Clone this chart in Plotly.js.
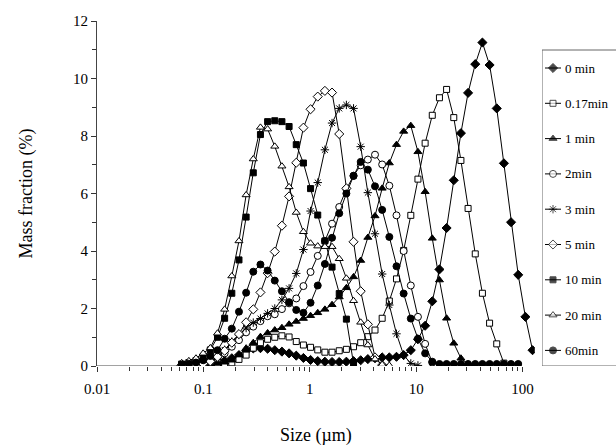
<!DOCTYPE html>
<html>
<head>
<meta charset="utf-8">
<script src="https://cdn.plot.ly/plotly-3.0.1.min.js"></script>
<style>html,body{margin:0;padding:0;background:#fff;}#chart{width:616px;height:448px;}</style>
</head>
<body>
<div id="chart"></div>
<script>
// Particle size grid (µm)
const sizes = [0.0625, 0.0730, 0.0852, 0.0995, 0.1162, 0.1357, 0.1584, 0.1850, 0.2160, 0.2522,
  0.2944, 0.3438, 0.4014, 0.4687, 0.5472, 0.6390, 0.7461, 0.8711, 1.017, 1.188,
  1.387, 1.619, 1.891, 2.208, 2.578, 3.010, 3.514, 4.103, 4.791, 5.594,
  6.531, 7.626, 8.904, 10.39, 12.14, 14.17, 16.55, 19.32, 22.56, 26.34,
  30.76, 35.92, 41.94, 48.97, 57.18, 66.76, 77.95, 91.02, 106.3, 124.1];

const seriesNames = ["0 min", "0.17min", "1 min", "2min", "3 min", "5 min", "10 min", "20 min", "60min"];

const mf_0min = [0.01, 0.02, 0.03, 0.05, 0.08, 0.12, 0.18, 0.27, 0.38, 0.53,
  0.61, 0.62, 0.6, 0.55, 0.5, 0.44, 0.36, 0.28, 0.21, 0.17,
  0.15, 0.14, 0.14, 0.15, 0.17, 0.2, 0.24, 0.27, 0.3, 0.3,
  0.32, 0.38, 0.55, 0.93, 1.4, 2.25, 3.36, 4.8, 6.46, 8.1,
  9.5, 10.5, 11.25, 10.47, 8.96, 7.05, 5.0, 3.17, 1.71, 0.55];
const mf_017min = [0.01, 0.01, 0.02, 0.02, 0.03, 0.04, 0.06, 0.11, 0.23, 0.38,
  0.62, 0.81, 0.93, 1.0, 1.05, 1.01, 0.85, 0.73, 0.65, 0.56,
  0.48, 0.48, 0.53, 0.58, 0.67, 0.81, 1.02, 1.25, 1.66, 2.26,
  3.03, 4.02, 5.24, 6.5, 7.75, 8.72, 9.33, 9.62, 8.64, 7.15,
  5.48, 3.9, 2.53, 1.49, 0.77, 0.1, 0.02];
const mf_1min = [0.01, 0.02, 0.03, 0.04, 0.06, 0.09, 0.13, 0.2, 0.38, 0.62,
  0.81, 1.02, 1.15, 1.25, 1.33, 1.45, 1.55, 1.65, 1.75, 1.85,
  1.97, 2.13, 2.4, 2.72, 3.1, 3.67, 4.47, 5.22, 6.18, 7.06,
  7.7, 8.16, 8.36, 7.45, 6.06, 4.44, 2.99, 1.66, 0.79, 0.27,
  0.06, 0.02];
const mf_2min = [0.01, 0.02, 0.04, 0.08, 0.15, 0.27, 0.44, 0.67, 0.9, 1.17,
  1.37, 1.56, 1.73, 1.8, 1.98, 2.18, 2.35, 2.78, 3.27, 3.83,
  4.35, 4.95, 5.53, 6.15, 6.62, 6.98, 7.18, 7.35, 7.01, 6.27,
  5.24, 4.0, 2.8, 1.71, 0.77, 0.12];
const mf_3min = [0.01, 0.02, 0.04, 0.08, 0.17, 0.32, 0.56, 0.85, 1.08, 1.32,
  1.51, 1.65, 1.83, 2.0, 2.3, 2.7, 3.22, 4.05, 5.39, 6.38,
  7.52, 8.45, 8.96, 9.08, 8.96, 7.63, 6.03, 4.6, 3.2, 2.12,
  1.12, 0.38, 0.09, 0.02];
const mf_5min = [0.01, 0.02, 0.04, 0.08, 0.16, 0.32, 0.53, 0.81, 1.11, 1.52,
  1.97, 2.56, 3.23, 3.98, 4.88, 5.9, 7.07, 8.29, 8.93, 9.37,
  9.57, 9.51, 8.07, 6.18, 4.32, 2.6, 1.45, 0.3, 0.03];
const mf_10min = [0.07, 0.12, 0.19, 0.32, 0.56, 1.0, 1.66, 2.53, 3.69, 5.18,
  6.72, 8.05, 8.5, 8.53, 8.5, 8.33, 7.7, 7.06, 6.17, 5.25,
  4.35, 3.44, 2.52, 1.63, 0.08];
const mf_20min = [0.11, 0.18, 0.27, 0.44, 0.63, 1.14, 1.97, 3.13, 4.35, 5.95,
  7.2, 8.3, 8.24, 7.64, 6.95, 6.23, 5.34, 4.67, 4.27, 4.17,
  4.15, 4.15, 3.73, 3.05, 2.27, 1.52, 0.73, 0.24, 0.05, 0.02];
const mf_60min = [0.05, 0.08, 0.12, 0.2, 0.35, 0.55, 0.95, 1.3, 1.89, 2.55,
  3.28, 3.53, 3.32, 2.97, 2.6, 2.22, 1.95, 1.85, 2.2, 2.8,
  3.55, 4.46, 5.31, 6.0, 6.61, 7.1, 6.83, 6.25, 5.43, 4.49,
  3.47, 2.52, 1.65, 0.95, 0.44, 0.15, 0.07, 0.07, 0.07, 0.07,
  0.07, 0.07, 0.07, 0.07, 0.07, 0.07, 0.07, 0.07];

const xTickVals = [0.01, 0.1, 1, 10, 100];
const xTickText = ["0.01", "0.1", "1", "10", "100"];

const seriesValues = [mf_0min, mf_017min, mf_1min, mf_2min, mf_3min, mf_5min, mf_10min, mf_20min, mf_60min];
const markerStyles = [
  {symbol: 'diamond', color: 'black', size: 7, line: {color: 'black', width: 1}},
  {symbol: 'square', color: 'white', size: 6, line: {color: 'black', width: 1}},
  {symbol: 'triangle-up', color: 'black', size: 7, line: {color: 'black', width: 1}},
  {symbol: 'circle', color: 'white', size: 7, line: {color: 'black', width: 1}},
  {symbol: 'asterisk-open', color: 'black', size: 7, line: {color: 'black', width: 1}},
  {symbol: 'diamond', color: 'white', size: 7, line: {color: 'black', width: 1}},
  {symbol: 'square', color: 'black', size: 6, line: {color: 'black', width: 1}},
  {symbol: 'triangle-up', color: 'white', size: 7, line: {color: 'black', width: 1}},
  {symbol: 'circle', color: 'black', size: 7, line: {color: 'black', width: 1}}
];

const font = '"Liberation Serif"';

// main data traces
const traces = seriesValues.map((vals, i) => ({
  type: 'scatter',
  mode: 'lines+markers',
  name: seriesNames[i],
  showlegend: false,
  x: sizes.slice(0, vals.length),
  y: vals,
  xaxis: 'x', yaxis: 'y',
  line: {color: 'black', width: 1},
  marker: markerStyles[i]
}));

// hand-built legend on helper axes (units = pixels inside the legend area)
const legTop = 68, legStep = 35.3;
const annotations = [];
seriesNames.forEach((name, i) => {
  const yy = legTop + legStep * i;
  traces.push({
    type: 'scatter', mode: 'lines+markers', showlegend: false, hoverinfo: 'skip',
    x: [3, 11, 19], y: [yy, yy, yy], xaxis: 'x2', yaxis: 'y2',
    line: {color: 'black', width: 1},
    marker: Object.assign({}, markerStyles[i], {size: [0, markerStyles[i].size, 0]}),
    cliponaxis: false
  });
  annotations.push({
    xref: 'x2', yref: 'y2', x: 21, y: yy, xanchor: 'left', yanchor: 'middle',
    text: name, showarrow: false, font: {family: font, size: 13, color: 'black'}
  });
});

const minorX = [];
for (let d = -2; d < 2; d++) {
  for (let k = 2; k <= 9; k++) minorX.push(k * Math.pow(10, d));
}

const paperW = 616 - 97;
const layout = {
  width: 616, height: 448,
  margin: {l: 97, r: 0, t: 21, b: 82, autoexpand: false},
  paper_bgcolor: 'white', plot_bgcolor: 'white',
  font: {family: font, color: 'black', size: 14},
  showlegend: false,
  xaxis: {
    domain: [0, 437.8 / paperW],
    type: 'log', range: [-2, 2.115],
    tickmode: 'array', tickvals: xTickVals, ticktext: xTickText,
    ticks: 'outside', ticklen: 5, tickcolor: '#333', tickwidth: 1,
    minor: {tickmode: 'array', tickvals: minorX, ticks: 'outside', ticklen: 4, tickcolor: '#333', showgrid: false},
    showline: false, showgrid: false, zeroline: false,
    ticklabelstandoff: 4,
    tickfont: {family: font, size: 15, color: 'black'},
    title: {text: 'Size (\u00b5m)', font: {family: font, size: 18, color: 'black'}, standoff: 32}
  },
  yaxis: {
    range: [0, 12], tick0: 0, dtick: 2,
    ticks: 'outside', ticklen: 5, tickcolor: '#333',
    minor: {dtick: 1, ticks: 'outside', ticklen: 4, tickcolor: '#333', showgrid: false},
    showline: true, linecolor: '#444', linewidth: 1,
    showgrid: false, zeroline: false,
    tickfont: {family: font, size: 15, color: 'black'},
    title: {text: 'Mass fraction (%)', font: {family: font, size: 18, color: 'black'}, standoff: 35}
  },
  xaxis2: {domain: [(542 - 97) / paperW, 1], range: [0, 74], visible: false, fixedrange: true},
  yaxis2: {domain: [0, 1], range: [366, 21], visible: false, fixedrange: true, anchor: 'x2'},
  shapes: [
    {type: 'line', xref: 'x', yref: 'y', x0: -2, x1: 2.06, y0: 0, y1: 0, line: {color: '#444', width: 1}, layer: 'below'},
    {type: 'rect', xref: 'x2', yref: 'y2', x0: 0, x1: 90, y0: 50, y1: 366, line: {color: '#666', width: 1}, fillcolor: 'rgba(0,0,0,0)', layer: 'below'}
  ],
  annotations: annotations
};

Plotly.newPlot('chart', traces, layout, {displayModeBar: false, staticPlot: true});
</script>
</body>
</html>
